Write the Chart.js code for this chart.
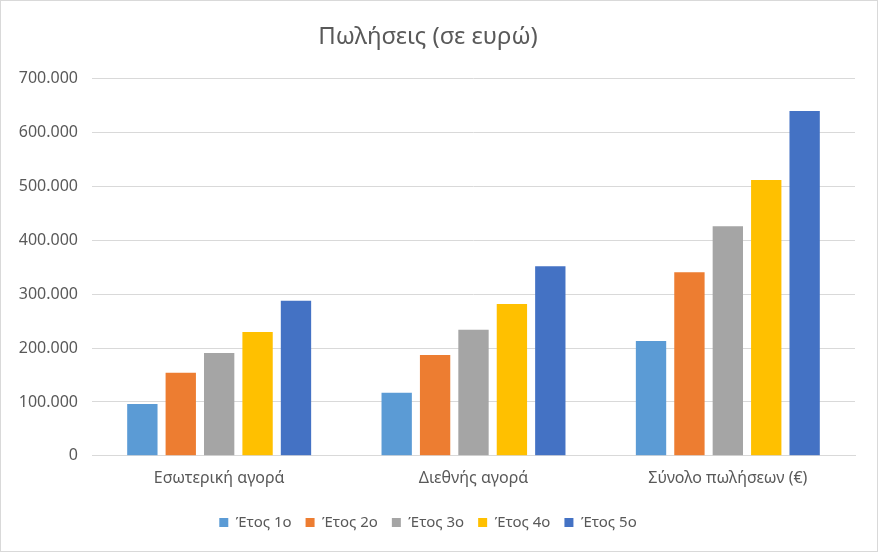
<!DOCTYPE html>
<html>
<head>
<meta charset="utf-8">
<script src="https://cdn.jsdelivr.net/npm/chart.js@4"></script>
<style>
html,body{margin:0;padding:0;background:#fff;}
#wrap{position:absolute;left:0;top:0;width:876px;height:550px;border:1px solid #d9d9d9;}
</style>
</head>
<body>
<div id="wrap"><canvas id="c" width="876" height="550"></canvas></div>
<script>
const categories = ["Εσωτερική αγορά", "Διεθνής αγορά", "Σύνολο πωλήσεων (€)"];
const seriesNames = ["Έτος 1ο", "Έτος 2ο", "Έτος 3ο", "Έτος 4ο", "Έτος 5ο"];
const year1 = [96000, 117000, 213000];
const year2 = [154000, 187000, 341000];
const year3 = [191000, 234000, 426000];
const year4 = [230000, 282000, 512000];
const year5 = [288000, 352000, 640000];
const colors = ["#5b9bd5", "#ed7d31", "#a5a5a5", "#ffc000", "#4472c4"];
const allValues = [year1, year2, year3, year4, year5];

const fontFam = "'Noto Sans', 'DejaVu Sans', sans-serif";
const fmt = v => v === 0 ? "0" : v.toLocaleString("de-DE");

new Chart(document.getElementById("c"), {
  type: "bar",
  data: {
    labels: categories,
    datasets: seriesNames.map((n, i) => ({
      label: n,
      data: allValues[i],
      backgroundColor: colors[i],
      borderWidth: 0,
      barPercentage: 0.79,
      categoryPercentage: 0.755
    }))
  },
  options: {
    responsive: false,
    animation: false,
    devicePixelRatio: 1,
    layout: { padding: { left: 0, right: 22, top: 0, bottom: 11 } },
    plugins: {
      title: {
        display: true,
        text: "Πωλήσεις (σε ευρώ)",
        color: "#595959",
        font: { family: fontFam, size: 24, weight: "normal" },
        padding: { top: 22, bottom: 27 }
      },
      legend: {
        position: "bottom",
        labels: {
          color: "#595959",
          font: { family: fontFam, size: 15 },
          boxWidth: 9,
          boxHeight: 9,
          padding: 14
        }
      },
      tooltip: { enabled: false }
    },
    scales: {
      x: {
        grid: { display: false, drawTicks: false },
        border: { display: true, color: "#d9d9d9" },
        ticks: { color: "#595959", font: { family: fontFam, size: 16 }, padding: 13 }
      },
      y: {
        min: 0, max: 700000,
        afterFit: s => { s.width = 91; },
        grid: { color: "#d9d9d9", drawTicks: false },
        border: { display: false },
        ticks: {
          stepSize: 100000,
          color: "#595959",
          font: { family: fontFam, size: 16 },
          padding: 14,
          callback: v => fmt(v)
        }
      }
    }
  }
});
</script>
</body>
</html>
